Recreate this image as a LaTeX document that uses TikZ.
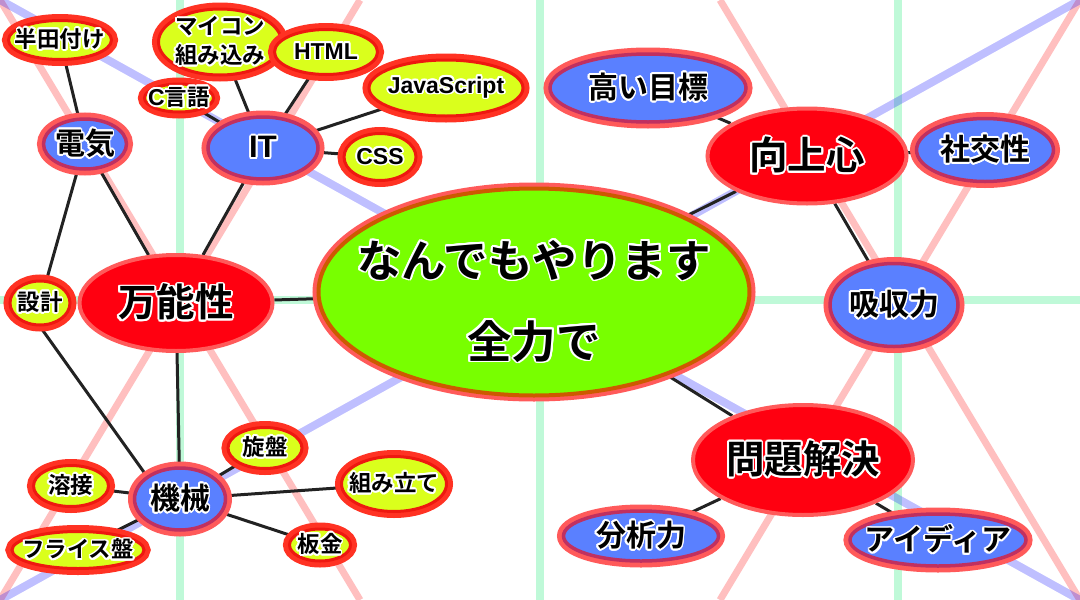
\documentclass[tikz,border=0pt]{standalone}
\usepackage{fontspec}
\setmainfont{Noto Sans CJK JP}[BoldFont={Noto Sans CJK JP Bold}]
\newfontfamily\lat{Liberation Sans}
\usepackage[copies]{contour}
\contourlength{1.8pt}
\usetikzlibrary{shapes.geometric}
\pgfdeclarelayer{back}
\pgfdeclarelayer{links}
\pgfsetlayers{back,links,main}
\definecolor{leafyellow}{RGB}{218,255,28}
\definecolor{leafred}{RGB}{238,24,16}
\definecolor{leafring}{RGB}{255,50,35}
\definecolor{subblue}{RGB}{90,128,255}
\definecolor{subdark}{RGB}{192,48,96}
\definecolor{ringpink}{RGB}{255,90,90}
\definecolor{mainred}{RGB}{255,0,16}
\definecolor{topgreen}{RGB}{120,255,0}
\definecolor{topdark}{RGB}{205,90,0}
\definecolor{linkgray}{RGB}{34,34,34}
\definecolor{guidegreen}{RGB}{0,230,100}
\definecolor{guidered}{RGB}{255,0,0}
\definecolor{guideblue}{RGB}{0,0,255}
\newcommand\ol[1]{\contour{white}{#1}}

\begin{document}
\begin{tikzpicture}[x=1pt, y=-1pt,
    ell/.style 2 args={ellipse, inner sep=0pt, minimum width=#1pt, minimum height=#2pt},
    txt/.style={draw=none, fill=none, align=center, text=black, inner sep=0pt},
    leafnode/.style={fill=leafyellow, draw=leafred, line width=3pt,
      preaction={draw=leafring, line width=13pt},
      label={[txt, font=\bfseries\fontsize{22.5}{29}\selectfont]center:#1}},
    subnode/.style={fill=subblue, draw=subdark, line width=3.5pt,
      preaction={draw=ringpink, line width=13pt},
      label={[txt, font=\bfseries\fontsize{30}{34}\selectfont]center:#1}},
    mainnode/.style={fill=mainred, draw=ringpink, line width=4pt,
      label={[txt, font=\bfseries\fontsize{38.5}{44}\selectfont]center:#1}},
    topnode/.style={fill=topgreen, draw=topdark, line width=4pt,
      preaction={draw=ringpink, line width=12pt},
      label={[txt, yshift=-10pt, font=\bfseries\fontsize{44.5}{81}\selectfont]center:#1}},
    link/.style={draw=linkgray, line width=3pt},
    guide/.style={line width=8pt, opacity=.25}]
  \useasboundingbox (0,0) rectangle (1080,600);

  \begin{pgfonlayer}{back}
    \draw[guide, guidegreen] (180,0) -- (180,600) (540,0) -- (540,600) (898,0) -- (898,600) (0,300) -- (1080,300);
    \draw[guide, guidered, line width=7pt] (0,0) -- (360,600) (360,0) -- (0,600) (720,0) -- (1080,600) (1080,0) -- (720,600);
    \draw[guide, guideblue] (0,0) -- (1080,600) (0,600) -- (1080,0);
  \end{pgfonlayer}

  \node[ell={431}{207}, topnode={\ol{なんでもやります}\\\ol{全力で}}] (zenryoku) at (534,292) {};

  \node[ell={193}{96}, mainnode=\ol{万能性}] (bannou) at (176,303) {};
  \node[ell={199}{95}, mainnode=\ol{向上心}] (koujou) at (807,156) {};
  \node[ell={220}{110}, mainnode=\ol{問題解決}] (mondai) at (803,460) {};

  \node[ell={83}{50}, subnode=\ol{電気}] (denki) at (85,144) {};
  \node[ell={110}{62}, subnode={\ol{\lat\fontsize{31}{34}\selectfont IT}}] (it) at (263,148) {};
  \node[ell={91}{62}, subnode=\ol{機械}] (kikai) at (180,499) {};
  \node[ell={196}{68}, subnode=\ol{高い目標}] (takai) at (648,88) {};
  \node[ell={137}{63}, subnode=\ol{社交性}] (shakou) at (985,150) {};
  \node[ell={128}{83}, subnode=\ol{吸収力}] (kyuushuu) at (894,305) {};
  \node[ell={155}{50}, subnode=\ol{分析力}] (bunseki) at (641,536) {};
  \node[ell={176}{52}, subnode=\ol{アイディア}] (idea) at (938,540) {};

  \node[ell={103}{39}, leafnode=\ol{半田付け}] (handa) at (60,40) {};
  \node[ell={123}{66}, leafnode={\ol{マイコン}\\\ol{組み込み}}] (maicon) at (220,42) {};
  \node[ell={103}{45}, leafnode={\ol{\lat\fontsize{23}{26}\selectfont HTML}}] (html) at (326,52) {};
  \node[ell={154}{56}, leafnode={\ol{\lat\fontsize{23}{26}\selectfont JavaScript}}] (js) at (446,88) {};
  \node[ell={69}{28}, leafnode={\ol{{\lat\fontsize{23}{26}\selectfont C}言語}}] (clang) at (179,98) {};
  \node[ell={72}{47}, leafnode={\ol{\lat\fontsize{23}{26}\selectfont CSS}}] (css) at (380,157) {};
  \node[ell={60}{44}, leafnode=\ol{設計}] (sekkei) at (40,303) {};
  \node[ell={74}{41}, leafnode=\ol{旋盤}] (senban) at (265,448) {};
  \node[ell={75}{41}, leafnode=\ol{溶接}] (yousetsu) at (71,486) {};
  \node[ell={132}{37}, leafnode=\ol{フライス盤}] (furaisu) at (78,550) {};
  \node[ell={105}{55}, leafnode=\ol{組み立て}] (kumitate) at (394,484) {};
  \node[ell={61}{32}, leafnode=\ol{板金}] (bankin) at (320,545) {};

  \begin{pgfonlayer}{links}
    \draw[link] (zenryoku) -- (bannou) (zenryoku) -- (koujou) (zenryoku) -- (mondai);
    \draw[link] (bannou) -- (denki) (bannou) -- (it) (bannou) -- (kikai);
    \draw[link] (denki) -- (handa) (denki) -- (sekkei) (sekkei.south) -- (kikai.north west);
    \draw[link] (it) -- (clang) (it) -- (maicon) (it) -- (html) (it) -- (js) (it) -- (css);
    \draw[link] (kikai) -- (senban) (kikai) -- (yousetsu) (kikai) -- (furaisu) (kikai) -- (kumitate) (kikai) -- (bankin);
    \draw[link] (koujou) -- (takai) (koujou) -- (shakou) (koujou) -- (kyuushuu);
    \draw[link] (mondai) -- (bunseki) (mondai) -- (idea);
  \end{pgfonlayer}
\end{tikzpicture}
\end{document}
